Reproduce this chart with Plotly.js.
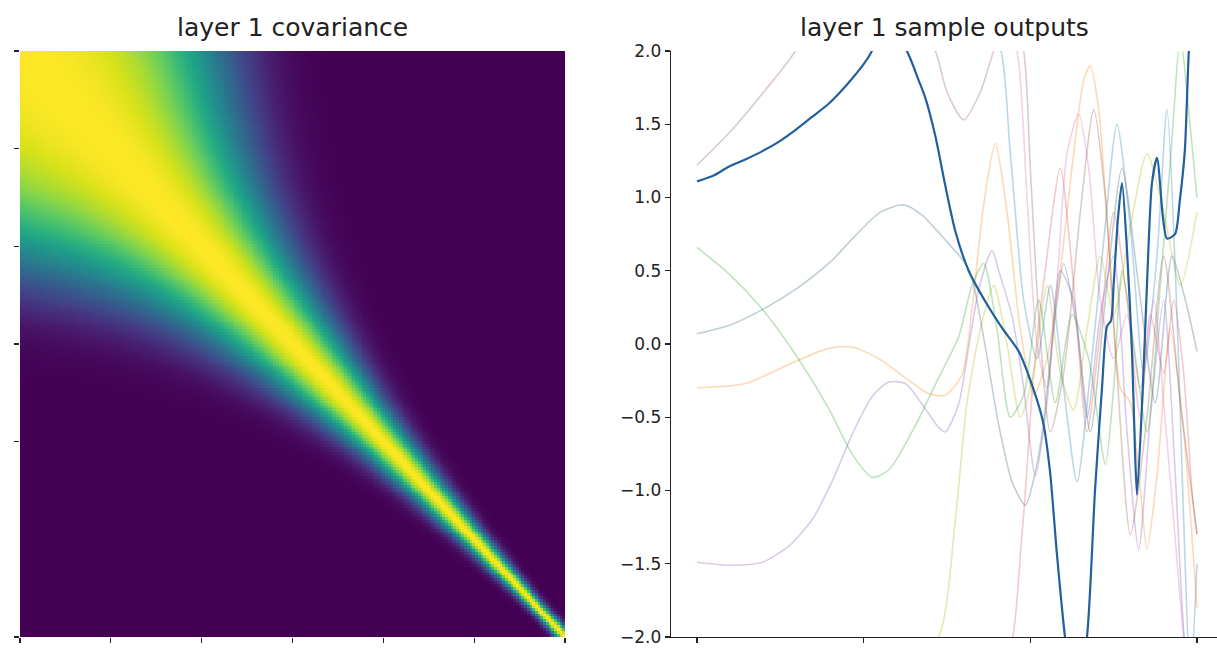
<!DOCTYPE html>
<html>
<head>
<meta charset="utf-8">
<script src="https://cdn.plot.ly/plotly-3.0.1.min.js"></script>
<style>
  html, body { margin: 0; padding: 0; background: #ffffff; }
  #chart { width: 1217px; height: 650px; }
</style>
</head>
<body>
<div id="chart"></div>
<script>
// ---------- data: left panel (covariance) ----------
// warped input position read along the diagonal (input position 0..1 -> warped coordinate)
const covKnotT = [0, 0.1, 0.2, 0.3, 0.4, 0.5, 0.6, 0.7, 0.8, 0.9, 1.0];
const covKnotW = [0, 0.2, 0.5, 0.98, 1.7, 2.75, 4.25, 6.55, 10.0, 15.4, 23.6];
const covSize = 200;

// ---------- data: right panel (sample outputs) ----------
const mainX = [0, 0.10, 0.19, 0.29, 0.39, 0.49, 0.59, 0.69, 0.79, 0.86, 0.93, 1.00, 1.04, 1.10, 1.16, 1.21, 1.26, 1.29, 1.33, 1.37, 1.43, 1.49, 1.55, 1.63, 1.73, 1.83, 1.93, 2.016, 2.076, 2.118, 2.16, 2.208, 2.27, 2.34, 2.388, 2.43, 2.46, 2.484, 2.50, 2.526, 2.55, 2.58, 2.61, 2.628, 2.64, 2.676, 2.70, 2.73, 2.76, 2.796, 2.82, 2.868, 2.897, 2.927, 2.951, 3.0];
const mainY = [1.11, 1.15, 1.21, 1.26, 1.315, 1.38, 1.46, 1.55, 1.64, 1.72, 1.81, 1.91, 1.98, 2.12, 2.2, 2.12, 2.0, 1.92, 1.80, 1.68, 1.42, 1.08, 0.77, 0.50, 0.29, 0.11, -0.05, -0.30, -0.53, -0.87, -1.44, -2.0, -2.5, -2.0, -1.0, -0.3, 0.12, 0.16, 0.41, 0.86, 1.10, 0.64, -0.05, -0.73, -1.03, -0.27, 0.41, 1.10, 1.27, 0.86, 0.72, 0.75, 0.98, 1.32, 2.0, 2.9];

const brownX = [0, 0.2, 0.4, 0.59, 0.8, 1.1, 1.43, 1.5, 1.6, 1.7, 1.78, 1.88, 1.96, 2.0, 2.05, 2.12, 2.2, 2.3, 2.38, 2.45, 2.52, 2.6, 2.7, 2.8, 2.9, 3.0];
const brownY = [1.22, 1.45, 1.72, 2.0, 2.5, 2.7, 2.0, 1.72, 1.53, 1.72, 2.0, 2.3, 2.0, 1.2, 0.2, -0.6, -0.2, 0.9, 1.6, 1.0, -0.2, -1.3, -0.5, 0.6, -0.4, -1.3];

const grayX = [0, 0.2, 0.4, 0.6, 0.8, 0.95, 1.1, 1.24, 1.35, 1.49, 1.61, 1.65, 1.73, 1.81, 1.89, 1.97, 2.04, 2.08, 2.14, 2.2, 2.28, 2.36, 2.45, 2.55, 2.65, 2.75, 2.85, 2.93, 3.0];
const grayY = [0.07, 0.13, 0.24, 0.38, 0.56, 0.74, 0.9, 0.95, 0.88, 0.71, 0.55, 0.45, -0.02, -0.55, -0.94, -1.10, -0.82, -0.53, 0.1, 0.55, 0.1, -0.6, 0.3, 1.2, 0.4, -0.4, 0.6, 0.3, -0.05];

const greenX = [0, 0.19, 0.39, 0.59, 0.79, 0.93, 1.05, 1.15, 1.29, 1.45, 1.57, 1.65, 1.72, 1.8, 1.88, 1.96, 2.05, 2.15, 2.25, 2.35, 2.45, 2.5, 2.55, 2.62, 2.7, 2.78, 2.85, 2.9, 2.95, 3.0];
const greenY = [0.66, 0.48, 0.24, -0.07, -0.44, -0.75, -0.91, -0.86, -0.60, -0.23, 0.05, 0.40, 0.55, 0.1, -0.5, -0.35, 0.3, -0.4, 0.2, -0.1, -0.82, -0.3, 0.5, 0.0, -0.6, 0.4, 1.4, 2.1, 1.6, 1.0];

const orangeX = [0, 0.29, 0.59, 0.79, 0.93, 1.09, 1.25, 1.39, 1.49, 1.59, 1.65, 1.72, 1.79, 1.86, 1.94, 2.02, 2.1, 2.18, 2.26, 2.32, 2.36, 2.41, 2.47, 2.54, 2.6, 2.66, 2.7, 2.76, 2.84, 2.92, 3.0];
const orangeY = [-0.30, -0.27, -0.12, -0.03, -0.02, -0.10, -0.23, -0.34, -0.35, -0.21, 0.24, 0.95, 1.37, 0.9, 0.1, -0.35, -0.1, 0.5, 1.3, 1.8, 1.9, 1.6, 0.7, -0.3, -0.4, -1.0, -1.4, -0.9, 0.1, -0.6, -1.8];

const purpleX = [0, 0.19, 0.39, 0.55, 0.69, 0.81, 0.93, 1.05, 1.15, 1.25, 1.35, 1.45, 1.49, 1.57, 1.63, 1.69, 1.77, 1.81, 1.89, 1.96, 2.03, 2.1, 2.18, 2.26, 2.34, 2.42, 2.5, 2.58, 2.65, 2.72, 2.8, 2.87, 2.93, 3.0];
const purpleY = [-1.49, -1.51, -1.49, -1.38, -1.20, -0.94, -0.62, -0.36, -0.26, -0.27, -0.41, -0.57, -0.60, -0.41, -0.02, 0.37, 0.64, 0.50, 0.19, -0.3, -0.9, -0.4, 0.5, 0.3, -0.5, 0.2, 0.6, -0.6, -1.4, -0.5, 0.3, -0.9, -2.1, -2.6];

const pinkX = [0, 0.5, 1.0, 1.5, 1.8, 1.92, 1.98, 2.04, 2.1, 2.16, 2.22, 2.29, 2.35, 2.42, 2.5, 2.58, 2.66, 2.74, 2.8, 2.86, 2.92, 2.97, 3.0];
const pinkY = [2.6, 3.0, 3.4, 3.0, 2.4, 2.0, 1.0, 0.0, -0.3, 0.4, 1.3, 1.57, 1.2, 0.3, -0.1, 0.2, -0.3, 0.3, -0.4, -1.2, -2.0, -2.4, -2.2];

const redX = [0, 0.5, 1.0, 1.5, 1.85, 1.95, 2.02, 2.1, 2.18, 2.26, 2.34, 2.42, 2.5, 2.58, 2.66, 2.72, 2.8, 2.86, 2.92, 2.97, 3.0];
const redY = [-3.0, -3.3, -3.0, -2.6, -2.2, -1.3, -0.2, 0.6, 1.2, 0.4, -0.6, 0.1, 0.9, 0.3, -0.5, 0.2, -0.2, 0.3, -0.2, -1.0, -1.3];

const oliveX = [0, 0.6, 1.2, 1.45, 1.55, 1.62, 1.7, 1.78, 1.86, 1.94, 2.02, 2.1, 2.18, 2.26, 2.34, 2.42, 2.5, 2.6, 2.7, 2.8, 2.9, 3.0];
const oliveY = [-2.8, -2.6, -2.3, -2.0, -1.2, -0.4, 0.1, 0.4, 0.0, -0.5, -0.2, 0.4, -0.2, -0.45, 0.1, 0.6, 0.2, 0.8, 1.3, 0.9, 0.4, 0.9];

const lightBlueX = [0, 0.8, 1.5, 1.8, 1.88, 1.96, 2.04, 2.12, 2.2, 2.28, 2.36, 2.44, 2.52, 2.6, 2.68, 2.76, 2.82, 2.88, 2.92, 2.96, 3.0];
const lightBlueY = [3.0, 2.8, 2.5, 2.1, 1.3, 0.3, -0.1, 0.4, -0.3, -0.94, -0.2, 0.7, 1.5, 0.8, -0.2, 0.6, 1.6, 0.2, -1.2, -2.3, -1.5];

const yTickVals = [-2, -1.5, -1, -0.5, 0, 0.5, 1, 1.5, 2];

// ---------- build covariance matrix (RBF on the warped coordinate) ----------
function monotoneCubic(xs, ys) {
  const n = xs.length;
  const h = [], d = [];
  for (let k = 0; k < n - 1; k++) {
    h.push(xs[k + 1] - xs[k]);
    d.push((ys[k + 1] - ys[k]) / h[k]);
  }
  const m = new Array(n);
  m[0] = d[0];
  m[n - 1] = d[n - 2];
  for (let k = 1; k < n - 1; k++) {
    if (d[k - 1] * d[k] <= 0) m[k] = 0;
    else m[k] = 2 / (1 / d[k - 1] + 1 / d[k]);
  }
  return function (x) {
    let k = 0;
    while (k < n - 2 && x > xs[k + 1]) k++;
    const t = (x - xs[k]) / h[k];
    const t2 = t * t, t3 = t2 * t;
    return (2 * t3 - 3 * t2 + 1) * ys[k] + (t3 - 2 * t2 + t) * h[k] * m[k] +
           (-2 * t3 + 3 * t2) * ys[k + 1] + (t3 - t2) * h[k] * m[k + 1];
  };
}
const warp = monotoneCubic(covKnotT, covKnotW);
const wPos = [];
for (let i = 0; i < covSize; i++) wPos.push(warp(i / (covSize - 1)));
const covZ = [];
for (let i = 0; i < covSize; i++) {
  const row = [];
  for (let j = 0; j < covSize; j++) {
    const dw = wPos[i] - wPos[j];
    row.push(Math.exp(-0.5 * dw * dw));
  }
  covZ.push(row);
}

// ---------- traces ----------
const font = 'DejaVu Sans, Liberation Sans, sans-serif';
function faint(x, y, color) {
  return {
    type: 'scatter', mode: 'lines', x: x, y: y, xaxis: 'x2', yaxis: 'y2',
    line: { color: color, width: 1.6, shape: 'spline', smoothing: 0.7 },
    hoverinfo: 'skip', showlegend: false
  };
}
const traces = [
  {
    type: 'heatmap', z: covZ, colorscale: 'Viridis', zmin: 0, zmax: 1,
    showscale: false, xaxis: 'x', yaxis: 'y', hoverinfo: 'skip'
  },
  faint(redX, redY, 'rgba(214,39,40,0.25)'),
  faint(oliveX, oliveY, 'rgba(188,189,34,0.35)'),
  faint(pinkX, pinkY, 'rgba(227,119,194,0.35)'),
  faint(lightBlueX, lightBlueY, 'rgba(31,119,180,0.3)'),
  faint(orangeX, orangeY, 'rgba(255,127,14,0.3)'),
  faint(purpleX, purpleY, 'rgba(148,103,189,0.35)'),
  faint(greenX, greenY, 'rgba(44,160,44,0.3)'),
  faint(grayX, grayY, 'rgba(90,130,145,0.38)'),
  faint(brownX, brownY, 'rgba(140,86,75,0.3)'),
  {
    type: 'scatter', mode: 'lines', x: mainX, y: mainY, xaxis: 'x2', yaxis: 'y2',
    line: { color: '#21609c', width: 2.2, shape: 'spline', smoothing: 0.7 },
    hoverinfo: 'skip', showlegend: false
  }
];

const hTicks = [0, 1, 2, 3, 4, 5, 6].map(k => -0.5 + k * covSize / 6);
const vTicks = [0, 1, 2, 3, 4, 6].map(k => -0.5 + k * covSize / 6);

const layout = {
  width: 1217, height: 650,
  margin: { l: 0, r: 0, t: 51, b: 13, pad: 0 },
  paper_bgcolor: '#ffffff', plot_bgcolor: '#ffffff',
  font: { family: font, size: 17, color: '#222222' },
  showlegend: false,
  xaxis: {
    domain: [20 / 1217, 565 / 1217], range: [-0.5, covSize - 0.5],
    tickvals: hTicks, ticks: 'outside', ticklen: 5, tickwidth: 1.2, tickcolor: '#222',
    showticklabels: false, showgrid: false, zeroline: false, showline: false
  },
  yaxis: {
    domain: [0, 1], range: [covSize - 0.5, -0.5],
    tickvals: vTicks, ticks: 'outside', ticklen: 5, tickwidth: 1.2, tickcolor: '#222',
    showticklabels: false, showgrid: false, zeroline: false, showline: false
  },
  xaxis2: {
    domain: [671 / 1217, 1], range: [-0.156, 3.12], anchor: 'y2',
    tickvals: [0, 1, 2, 3], ticks: 'outside', ticklen: 5, tickwidth: 1.2, tickcolor: '#222',
    showticklabels: false, showgrid: false, zeroline: false,
    showline: true, linecolor: '#222', linewidth: 1.3
  },
  yaxis2: {
    domain: [0, 1], range: [-2, 2], anchor: 'x2',
    tickvals: yTickVals, tickformat: '.1f', ticks: 'outside', ticklen: 5, tickwidth: 1.2, tickcolor: '#222',
    tickfont: { family: font, size: 17, color: '#222' },
    showgrid: false, zeroline: false, showline: true, linecolor: '#222', linewidth: 1.3
  },
  annotations: [
    {
      text: 'layer 1 covariance', xref: 'paper', yref: 'paper',
      x: (20 + 565) / 2 / 1217, y: 1 + 23 / 586, xanchor: 'center', yanchor: 'middle',
      showarrow: false, font: { family: font, size: 25, color: '#222' }
    },
    {
      text: 'layer 1 sample outputs', xref: 'paper', yref: 'paper',
      x: (671 + 1217) / 2 / 1217, y: 1 + 23 / 586, xanchor: 'center', yanchor: 'middle',
      showarrow: false, font: { family: font, size: 25, color: '#222' }
    }
  ]
};

Plotly.newPlot('chart', traces, layout, { staticPlot: true, displayModeBar: false });
</script>
</body>
</html>
